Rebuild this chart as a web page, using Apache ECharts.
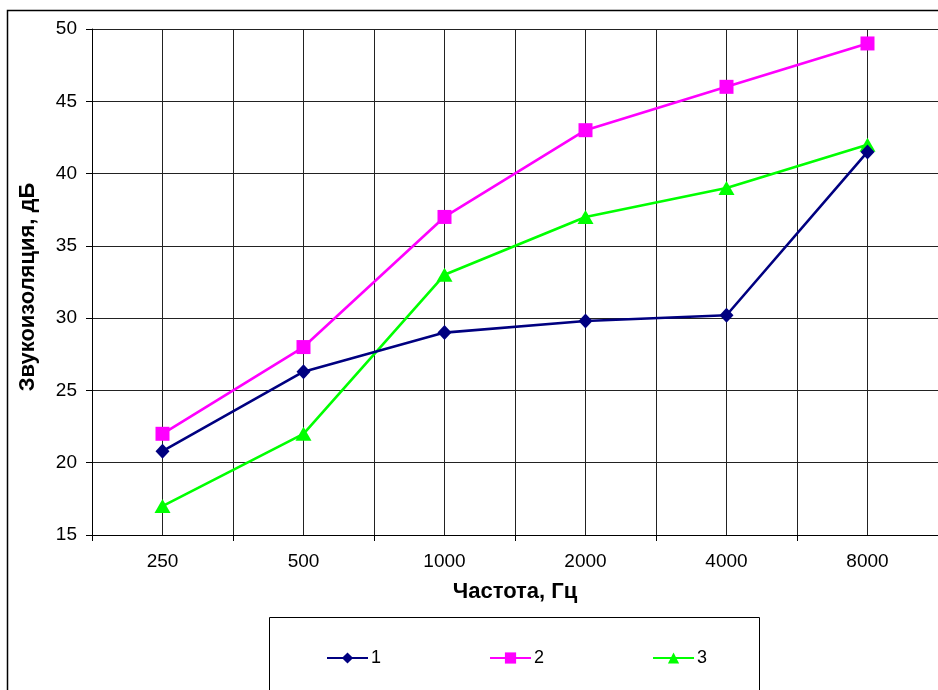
<!DOCTYPE html>
<html>
<head>
<meta charset="utf-8">
<script src="https://cdn.jsdelivr.net/npm/echarts@6/dist/echarts.min.js"></script>
<style>
html,body{margin:0;padding:0;background:#fff;}
#c{width:938px;height:690px;}
</style>
</head>
<body>
<div id="c"></div>
<script>
const categories = ['250', '500', '1000', '2000', '4000', '8000'];
const series1 = [20.8, 26.3, 29.0, 29.8, 30.2, 41.5];
const series2 = [22, 28, 37, 43, 46, 49];
const series3 = [17, 22, 33, 37, 39, 42];
const seriesNames = ['1', '2', '3'];
const yTitle = 'Звукоизоляция, дБ';
const xTitle = 'Частота, Гц';

const FONT = '"Liberation Sans", Arial, sans-serif';
const chart = echarts.init(document.getElementById('c'), null, {renderer: 'canvas'});

chart.setOption({
  animation: false,
  backgroundColor: '#fff',
  textStyle: {fontFamily: FONT},
  grid: {left: 92, top: 29, width: 849, height: 506, containLabel: false},
  graphic: [
    {type: 'rect', shape: {x: 7.5, y: 10.5, width: 1200, height: 1200}, style: {fill: 'none', stroke: '#000', lineWidth: 1.5}, z: -10, silent: true},
    {type: 'rect', shape: {x: 269.5, y: 617.5, width: 490, height: 200}, style: {fill: '#fff', stroke: '#000', lineWidth: 1}, z: 0, silent: true}
  ],
  legend: {
    left: 326, top: 649, padding: 0,
    itemWidth: 41, itemHeight: 14, itemGap: 108,
    textStyle: {fontFamily: FONT, fontSize: 18, color: '#000', padding: [0, 0, 0, -2]},
    data: seriesNames.map(n => ({name: n})),
    z: 5
  },
  xAxis: [
    {
      type: 'category', data: categories, boundaryGap: true,
      name: xTitle, nameLocation: 'middle', nameGap: 46,
      nameTextStyle: {fontFamily: FONT, fontSize: 22, fontWeight: 'bold', color: '#000'},
      axisLine: {show: true, lineStyle: {color: '#000', width: 1}},
      axisTick: {show: true, inside: false, length: 6, interval: 0, lineStyle: {color: '#000'}},
      axisLabel: {fontFamily: FONT, fontSize: 19, color: '#000', margin: 17, interval: 0},
      splitLine: {show: false}
    },
    {
      type: 'value', min: 0, max: 12, interval: 1, position: 'bottom',
      axisLine: {show: false}, axisTick: {show: false}, axisLabel: {show: false},
      splitLine: {show: true, lineStyle: {color: '#222', width: 1}}
    }
  ],
  yAxis: {
    type: 'value', min: 15, max: 50, interval: 5,
    name: yTitle, nameLocation: 'middle', nameGap: 53, nameRotate: 90,
    nameTextStyle: {fontFamily: FONT, fontSize: 22, fontWeight: 'bold', color: '#000', padding: [0, 10, 0, 0]},
    axisLine: {show: true, lineStyle: {color: '#000', width: 1}},
    axisTick: {show: true, inside: false, length: 6, lineStyle: {color: '#000'}},
    axisLabel: {fontFamily: FONT, fontSize: 19, color: '#000', margin: 15},
    splitLine: {show: true, lineStyle: {color: '#222', width: 1}}
  },
  series: [
    {
      name: seriesNames[0], type: 'line', data: series1, xAxisIndex: 0,
      symbol: 'diamond', symbolSize: [14, 15], z: 5,
      lineStyle: {color: '#000080', width: 2.6}, itemStyle: {color: '#000080'}
    },
    {
      name: seriesNames[1], type: 'line', data: series2, xAxisIndex: 0,
      symbol: 'rect', symbolSize: 14, z: 4,
      lineStyle: {color: '#FF00FF', width: 2.6}, itemStyle: {color: '#FF00FF'}
    },
    {
      name: seriesNames[2], type: 'line', data: series3, xAxisIndex: 0,
      symbol: 'triangle', symbolSize: [16, 14], z: 3,
      lineStyle: {color: '#00FF00', width: 2.6}, itemStyle: {color: '#00FF00'}
    }
  ]
});
</script>
</body>
</html>
